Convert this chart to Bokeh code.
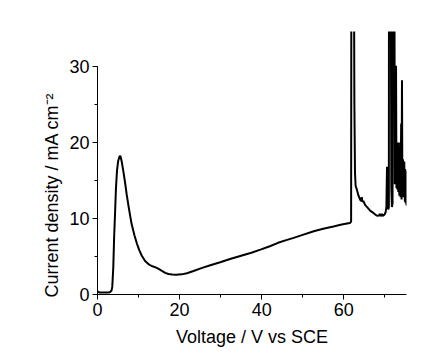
from bokeh.plotting import figure
from bokeh.models import Range1d, SingleIntervalTicker, Title
from bokeh.embed import file_html
from bokeh.resources import INLINE

voltage = [0.0, 0.5, 1.5, 2.5, 3.0, 3.4, 3.6, 3.85, 4.05, 4.27, 4.5, 4.75, 5.05, 5.4, 5.6,
           5.9, 6.3, 6.7, 7.1, 7.6, 8.3, 9.0, 9.6, 10.2, 10.8, 11.6, 12.4, 13.2, 14.0, 14.8,
           15.7, 16.5, 17.3, 18.2, 19.2, 20.5, 21.8, 23.4, 25.5, 27.5, 29.9, 32.5, 35.0, 37.5,
           39.7, 42.0, 44.0, 46.0, 47.8, 50.0, 52.7, 55.0, 57.5, 59.5, 61.5, 61.8, 61.9, 62.4,
           62.6, 62.75, 62.9, 63.2, 63.6, 64.0, 64.2, 64.4, 64.55, 64.8, 65.2, 65.7, 66.5, 67.3,
           68.0, 68.5, 68.8, 69.0, 69.3, 69.5, 69.9, 70.2, 70.4, 70.55, 70.7, 70.85, 71.0, 71.05,
           71.4, 71.6, 71.75, 71.9, 72.0, 72.3, 72.45, 72.6, 72.75, 72.85, 72.95, 73.05, 73.15,
           73.3, 73.45, 73.55, 73.7, 73.85, 74.0, 74.1, 74.2, 74.3, 74.45, 74.6, 74.75, 74.9,
           75.0, 75.1, 75.2, 75.3]
current = [0.4, 0.25, 0.25, 0.25, 0.3, 0.5, 1.0, 3.6, 7.5, 10.6, 14.0, 16.3, 17.6, 18.2, 18.2,
           17.5, 16.2, 14.8, 13.2, 11.5, 9.3, 7.8, 6.7, 5.8, 5.1, 4.4, 4.0, 3.75, 3.6, 3.4,
           3.1, 2.85, 2.7, 2.62, 2.6, 2.65, 2.8, 3.1, 3.5, 3.85, 4.25, 4.7, 5.1, 5.5,
           5.9, 6.35, 6.8, 7.15, 7.45, 7.85, 8.33, 8.65, 8.95, 9.2, 9.4, 9.6, 60.0, 60.0,
           25.0, 16.0, 14.3, 13.8, 13.0, 12.5, 12.3, 12.8, 12.2, 12.3, 11.8, 11.5, 11.0, 10.7,
           10.4, 10.35, 10.6, 10.3, 10.6, 10.35, 10.5, 10.8, 11.5, 16.8, 15.0, 11.2, 11.5, 60.0,
           60.0, 14.0, 11.5, 12.0, 60.0, 60.0, 14.5, 16.0, 30.1, 14.0, 20.0, 13.8, 19.9,
           13.5, 20.0, 13.0, 17.5, 12.8, 22.5, 12.5, 28.2, 13.0, 17.8, 12.8, 17.5, 12.2,
           16.5, 12.0, 16.3, 11.7]

x_ticks_interval = 20
y_ticks_interval = 10
x_label = "Voltage / V vs SCE"
y_label = "Current density / mA cm\u207b\u00b2"

FONT = "Liberation Sans"

p = figure(width=433, height=351, output_backend="svg", toolbar_location=None,
           x_range=Range1d(0, 75.3), y_range=Range1d(0, 34.6),
           min_border_left=97, min_border_right=27, min_border_top=31,
           min_border_bottom=57)
p.outline_line_color = None
p.grid.visible = False
p.background_fill_color = "white"

p.line(voltage, current, line_color="black", line_width=2)

for ax in (p.xaxis[0], p.yaxis[0]):
    ax.axis_line_color = "black"
    ax.axis_line_width = 1
    ax.major_tick_in = 0
    ax.major_tick_out = 5
    ax.minor_tick_in = 0
    ax.minor_tick_out = 3
    ax.major_tick_line_color = "black"
    ax.minor_tick_line_color = "black"
    ax.major_label_text_font = FONT
    ax.major_label_text_font_size = "18px"
    ax.major_label_text_color = "black"
    ax.major_label_standoff = 3
    ax.axis_label_text_font = FONT
    ax.axis_label_text_font_size = "18px"
    ax.axis_label_text_font_style = "normal"
    ax.axis_label_text_color = "black"

p.xaxis.ticker = SingleIntervalTicker(interval=x_ticks_interval, num_minor_ticks=2)
p.yaxis.ticker = SingleIntervalTicker(interval=y_ticks_interval, num_minor_ticks=2)
p.yaxis.bounds = (0, 30)
p.xaxis.axis_label = x_label
p.xaxis.axis_label_standoff = 8

ytitle = Title(text=y_label, align="left", offset=-3, standoff=9,
               text_font=FONT, text_font_size="18px", text_font_style="normal",
               text_color="black")
p.add_layout(ytitle, "left")

open("out.html", "w").write(file_html(p, INLINE))
